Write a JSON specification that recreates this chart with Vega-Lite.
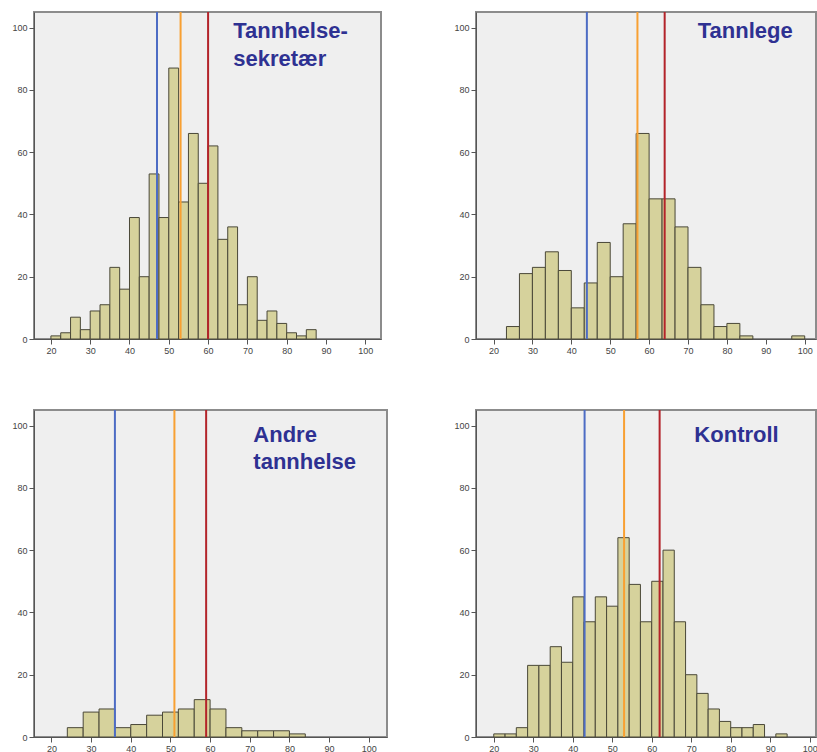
{
  "$schema": "https://vega.github.io/schema/vega-lite/v6.json",
  "background": "white",
  "padding": {"left": 10, "top": 10, "right": 0, "bottom": 0},
  "columns": 2,
  "spacing": {"column": 64, "row": 52},
  "config": {
    "view": {"fill": "#efefef", "stroke": "#8c8c8c", "strokeWidth": 2},
    "axis": {"grid": false, "title": null, "labelFont": "Liberation Sans", "labelFontSize": 9, "labelColor": "#444444", "domainColor": "#555555", "tickColor": "#555555", "tickSize": 5, "labelPadding": 2}
  },
  "concat": [
    {
      "width": 347, "height": 327,
      "layer": [
        {
          "data": {"values": [
            {"x0": 20, "x1": 22.5, "count": 1}, {"x0": 22.5, "x1": 25, "count": 2}, {"x0": 25, "x1": 27.5, "count": 7},
            {"x0": 27.5, "x1": 30, "count": 3}, {"x0": 30, "x1": 32.5, "count": 9}, {"x0": 32.5, "x1": 35, "count": 11},
            {"x0": 35, "x1": 37.5, "count": 23}, {"x0": 37.5, "x1": 40, "count": 16}, {"x0": 40, "x1": 42.5, "count": 39},
            {"x0": 42.5, "x1": 45, "count": 20}, {"x0": 45, "x1": 47.5, "count": 53}, {"x0": 47.5, "x1": 50, "count": 39},
            {"x0": 50, "x1": 52.5, "count": 87}, {"x0": 52.5, "x1": 55, "count": 44}, {"x0": 55, "x1": 57.5, "count": 66},
            {"x0": 57.5, "x1": 60, "count": 50}, {"x0": 60, "x1": 62.5, "count": 62}, {"x0": 62.5, "x1": 65, "count": 32},
            {"x0": 65, "x1": 67.5, "count": 36}, {"x0": 67.5, "x1": 70, "count": 11}, {"x0": 70, "x1": 72.5, "count": 20},
            {"x0": 72.5, "x1": 75, "count": 6}, {"x0": 75, "x1": 77.5, "count": 9}, {"x0": 77.5, "x1": 80, "count": 5},
            {"x0": 80, "x1": 82.5, "count": 2}, {"x0": 82.5, "x1": 85, "count": 1}, {"x0": 85, "x1": 87.5, "count": 3}
          ]},
          "mark": {"type": "rect", "fill": "#d6d29c", "stroke": "#4a4838", "strokeWidth": 1},
          "encoding": {
            "x": {"field": "x0", "type": "quantitative", "scale": {"domain": [15.7, 104], "nice": false, "zero": false}, "axis": {"values": [20, 30, 40, 50, 60, 70, 80, 90, 100]}},
            "x2": {"field": "x1"},
            "y": {"field": "count", "type": "quantitative", "scale": {"domain": [0, 105], "nice": false}, "axis": {"values": [0, 20, 40, 60, 80, 100]}},
            "y2": {"datum": 0}
          }
        },
        {
          "data": {"values": [{"stat": "blå", "v": 47}, {"stat": "oransje", "v": 53}, {"stat": "rød", "v": 60}]},
          "mark": {"type": "rule", "strokeWidth": 2},
          "encoding": {
            "x": {"field": "v", "type": "quantitative"},
            "color": {"field": "stat", "type": "nominal", "scale": {"domain": ["blå", "oransje", "rød"], "range": ["#4d6cc4", "#f8a032", "#b3242a"]}, "legend": null}
          }
        },
        {
          "data": {"values": [{"label": "Tannhelse-\nsekretær", "x": 66.4, "y": 96.7}]},
          "mark": {"type": "text", "align": "left", "baseline": "alphabetic", "lineBreak": "\n", "lineHeight": 28, "font": "Liberation Sans", "fontSize": 22, "fontWeight": "bold", "color": "#2e3192"},
          "encoding": {
            "x": {"field": "x", "type": "quantitative"},
            "y": {"field": "y", "type": "quantitative"},
            "text": {"field": "label"}
          }
        }
      ]
    },
    {
      "width": 340, "height": 327,
      "layer": [
        {
          "data": {"values": [
            {"x0": 23.33, "x1": 26.67, "count": 4}, {"x0": 26.67, "x1": 30, "count": 21}, {"x0": 30, "x1": 33.33, "count": 23},
            {"x0": 33.33, "x1": 36.67, "count": 28}, {"x0": 36.67, "x1": 40, "count": 22}, {"x0": 40, "x1": 43.33, "count": 10},
            {"x0": 43.33, "x1": 46.67, "count": 18}, {"x0": 46.67, "x1": 50, "count": 31}, {"x0": 50, "x1": 53.33, "count": 20},
            {"x0": 53.33, "x1": 56.67, "count": 37}, {"x0": 56.67, "x1": 60, "count": 66}, {"x0": 60, "x1": 63.33, "count": 45},
            {"x0": 63.33, "x1": 66.67, "count": 45}, {"x0": 66.67, "x1": 70, "count": 36}, {"x0": 70, "x1": 73.33, "count": 23},
            {"x0": 73.33, "x1": 76.67, "count": 11}, {"x0": 76.67, "x1": 80, "count": 4}, {"x0": 80, "x1": 83.33, "count": 5},
            {"x0": 83.33, "x1": 86.67, "count": 1}, {"x0": 96.67, "x1": 100, "count": 1}
          ]},
          "mark": {"type": "rect", "fill": "#d6d29c", "stroke": "#4a4838", "strokeWidth": 1},
          "encoding": {
            "x": {"field": "x0", "type": "quantitative", "scale": {"domain": [15.5, 102.9], "nice": false, "zero": false}, "axis": {"values": [20, 30, 40, 50, 60, 70, 80, 90, 100]}},
            "x2": {"field": "x1"},
            "y": {"field": "count", "type": "quantitative", "scale": {"domain": [0, 105], "nice": false}, "axis": {"values": [0, 20, 40, 60, 80, 100]}},
            "y2": {"datum": 0}
          }
        },
        {
          "data": {"values": [{"stat": "blå", "v": 44}, {"stat": "oransje", "v": 57}, {"stat": "rød", "v": 64}]},
          "mark": {"type": "rule", "strokeWidth": 2},
          "encoding": {
            "x": {"field": "v", "type": "quantitative"},
            "color": {"field": "stat", "type": "nominal", "scale": {"domain": ["blå", "oransje", "rød"], "range": ["#4d6cc4", "#f8a032", "#b3242a"]}, "legend": null}
          }
        },
        {
          "data": {"values": [{"label": "Tannlege", "x": 72.5, "y": 96.6}]},
          "mark": {"type": "text", "align": "left", "baseline": "alphabetic", "lineBreak": "\n", "lineHeight": 28, "font": "Liberation Sans", "fontSize": 22, "fontWeight": "bold", "color": "#2e3192"},
          "encoding": {
            "x": {"field": "x", "type": "quantitative"},
            "y": {"field": "y", "type": "quantitative"},
            "text": {"field": "label"}
          }
        }
      ]
    },
    {
      "width": 353, "height": 327,
      "layer": [
        {
          "data": {"values": [
            {"x0": 24, "x1": 28, "count": 3}, {"x0": 28, "x1": 32, "count": 8}, {"x0": 32, "x1": 36, "count": 9},
            {"x0": 36, "x1": 40, "count": 3}, {"x0": 40, "x1": 44, "count": 4}, {"x0": 44, "x1": 48, "count": 7},
            {"x0": 48, "x1": 52, "count": 8}, {"x0": 52, "x1": 56, "count": 9}, {"x0": 56, "x1": 60, "count": 12},
            {"x0": 60, "x1": 64, "count": 9}, {"x0": 64, "x1": 68, "count": 3}, {"x0": 68, "x1": 72, "count": 2},
            {"x0": 72, "x1": 76, "count": 2}, {"x0": 76, "x1": 80, "count": 2}, {"x0": 80, "x1": 84, "count": 1}
          ]},
          "mark": {"type": "rect", "fill": "#d6d29c", "stroke": "#4a4838", "strokeWidth": 1},
          "encoding": {
            "x": {"field": "x0", "type": "quantitative", "scale": {"domain": [15.6, 104.6], "nice": false, "zero": false}, "axis": {"values": [20, 30, 40, 50, 60, 70, 80, 90, 100]}},
            "x2": {"field": "x1"},
            "y": {"field": "count", "type": "quantitative", "scale": {"domain": [0, 105], "nice": false}, "axis": {"values": [0, 20, 40, 60, 80, 100]}},
            "y2": {"datum": 0}
          }
        },
        {
          "data": {"values": [{"stat": "blå", "v": 36}, {"stat": "oransje", "v": 51}, {"stat": "rød", "v": 59}]},
          "mark": {"type": "rule", "strokeWidth": 2},
          "encoding": {
            "x": {"field": "v", "type": "quantitative"},
            "color": {"field": "stat", "type": "nominal", "scale": {"domain": ["blå", "oransje", "rød"], "range": ["#4d6cc4", "#f8a032", "#b3242a"]}, "legend": null}
          }
        },
        {
          "data": {"values": [{"label": "Andre\ntannhelse", "x": 70.9, "y": 94.6}]},
          "mark": {"type": "text", "align": "left", "baseline": "alphabetic", "lineBreak": "\n", "lineHeight": 27, "font": "Liberation Sans", "fontSize": 22, "fontWeight": "bold", "color": "#2e3192"},
          "encoding": {
            "x": {"field": "x", "type": "quantitative"},
            "y": {"field": "y", "type": "quantitative"},
            "text": {"field": "label"}
          }
        }
      ]
    },
    {
      "width": 340, "height": 327,
      "layer": [
        {
          "data": {"values": [
            {"x0": 20, "x1": 22.86, "count": 1}, {"x0": 22.86, "x1": 25.71, "count": 1}, {"x0": 25.71, "x1": 28.57, "count": 3},
            {"x0": 28.57, "x1": 31.43, "count": 23}, {"x0": 31.43, "x1": 34.29, "count": 23}, {"x0": 34.29, "x1": 37.14, "count": 29},
            {"x0": 37.14, "x1": 40, "count": 24}, {"x0": 40, "x1": 42.86, "count": 45}, {"x0": 42.86, "x1": 45.71, "count": 37},
            {"x0": 45.71, "x1": 48.57, "count": 45}, {"x0": 48.57, "x1": 51.43, "count": 42}, {"x0": 51.43, "x1": 54.29, "count": 64},
            {"x0": 54.29, "x1": 57.14, "count": 49}, {"x0": 57.14, "x1": 60, "count": 37}, {"x0": 60, "x1": 62.86, "count": 50},
            {"x0": 62.86, "x1": 65.71, "count": 60}, {"x0": 65.71, "x1": 68.57, "count": 37}, {"x0": 68.57, "x1": 71.43, "count": 20},
            {"x0": 71.43, "x1": 74.29, "count": 14}, {"x0": 74.29, "x1": 77.14, "count": 9}, {"x0": 77.14, "x1": 80, "count": 5},
            {"x0": 80, "x1": 82.86, "count": 3}, {"x0": 82.86, "x1": 85.71, "count": 3}, {"x0": 85.71, "x1": 88.57, "count": 4},
            {"x0": 91.43, "x1": 94.29, "count": 1}
          ]},
          "mark": {"type": "rect", "fill": "#d6d29c", "stroke": "#4a4838", "strokeWidth": 1},
          "encoding": {
            "x": {"field": "x0", "type": "quantitative", "scale": {"domain": [15.5, 101.6], "nice": false, "zero": false}, "axis": {"values": [20, 30, 40, 50, 60, 70, 80, 90, 100]}},
            "x2": {"field": "x1"},
            "y": {"field": "count", "type": "quantitative", "scale": {"domain": [0, 105], "nice": false}, "axis": {"values": [0, 20, 40, 60, 80, 100]}},
            "y2": {"datum": 0}
          }
        },
        {
          "data": {"values": [{"stat": "blå", "v": 43}, {"stat": "oransje", "v": 53}, {"stat": "rød", "v": 62}]},
          "mark": {"type": "rule", "strokeWidth": 2},
          "encoding": {
            "x": {"field": "v", "type": "quantitative"},
            "color": {"field": "stat", "type": "nominal", "scale": {"domain": ["blå", "oransje", "rød"], "range": ["#4d6cc4", "#f8a032", "#b3242a"]}, "legend": null}
          }
        },
        {
          "data": {"values": [{"label": "Kontroll", "x": 70.8, "y": 94.6}]},
          "mark": {"type": "text", "align": "left", "baseline": "alphabetic", "lineBreak": "\n", "lineHeight": 28, "font": "Liberation Sans", "fontSize": 22, "fontWeight": "bold", "color": "#2e3192"},
          "encoding": {
            "x": {"field": "x", "type": "quantitative"},
            "y": {"field": "y", "type": "quantitative"},
            "text": {"field": "label"}
          }
        }
      ]
    }
  ]
}
